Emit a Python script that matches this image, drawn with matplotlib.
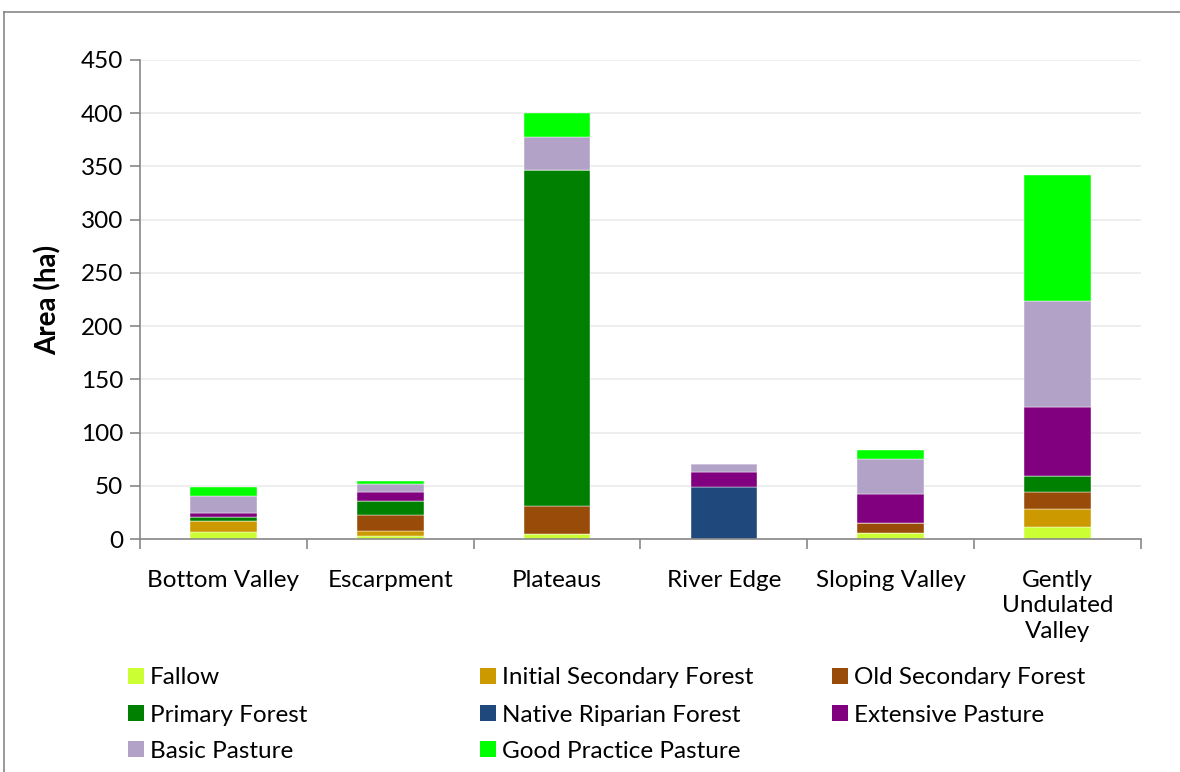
import matplotlib
matplotlib.use("Agg")
import matplotlib.pyplot as plt
import numpy as np
from matplotlib.patches import Rectangle
from matplotlib.lines import Line2D

plt.rcParams['font.family'] = ['Lato', 'DejaVu Sans']

# Landscape units
categories = ["Bottom Valley", "Escarpment", "Plateaus", "River Edge",
              "Sloping Valley", "Gently\nUndulated\nValley"]

# Area (ha) of each land use per landscape unit
fallow = [7, 2.5, 5, 0, 5.6, 11]
initial_secondary = [10, 4.7, 0, 0, 0, 17]
old_secondary = [0, 15.7, 26, 0, 9.1, 16]
primary_forest = [3.5, 12.8, 316, 0, 0, 15]
native_riparian = [0, 0, 0, 49, 0, 0]
extensive_pasture = [3.7, 8.8, 0, 14.4, 27.6, 65]
basic_pasture = [16.6, 7.1, 30.5, 6.6, 33.1, 99.5]
good_practice = [8, 2.5, 22.5, 0, 8.2, 118.5]

series = [
    ("Fallow", fallow, "#CCFF33"),
    ("Initial Secondary Forest", initial_secondary, "#CC9900"),
    ("Old Secondary Forest", old_secondary, "#994C09"),
    ("Primary Forest", primary_forest, "#008000"),
    ("Native Riparian Forest", native_riparian, "#1F497D"),
    ("Extensive Pasture", extensive_pasture, "#800080"),
    ("Basic Pasture", basic_pasture, "#B3A2C7"),
    ("Good Practice Pasture", good_practice, "#00FF00"),
]

W, H = 1180, 772
fig = plt.figure(figsize=(W / 100, H / 100), dpi=100)
ax = fig.add_axes([140 / W, 1 - 539 / H, 1001 / W, 479 / H])

x = np.arange(len(categories))
bottom = np.zeros(len(categories))
for name, vals, col in series:
    vals = np.array(vals, dtype=float)
    ax.bar(x, vals, 0.4, bottom=bottom, color=col, edgecolor="white", linewidth=0.3)
    bottom += vals

ax.set_xlim(-0.5, len(categories) - 0.5)
ax.set_ylim(0, 450)
ax.set_yticks(np.arange(0, 451, 50))
ax.set_xticks(x)
ax.set_xticklabels(categories, fontsize=17.5, linespacing=1.28)
ax.set_xticks(np.arange(-0.5, len(categories), 1), minor=True)
ax.tick_params(axis="x", which="major", length=0, pad=22)
ax.tick_params(axis="x", which="minor", length=7, color="#878787", width=1.2)
ax.tick_params(axis="y", labelsize=17.5, length=7, color="#878787", width=1.2, pad=5)
ax.grid(axis="y", color="#EBEBEB", linewidth=1.2)
ax.set_axisbelow(True)
for s in ["top", "right"]:
    ax.spines[s].set_visible(False)
for s in ["left", "bottom"]:
    ax.spines[s].set_color("#878787")
    ax.spines[s].set_linewidth(1.2)
ax.set_ylabel("Area (ha)", fontsize=20, fontweight="bold", labelpad=14)

# legend, row by row, three columns
col_x = [128, 480, 832]
row_y = [676, 713, 749]
for i, (name, vals, col) in enumerate(series):
    cx = col_x[i % 3]
    cy = row_y[i // 3]
    fig.add_artist(Rectangle((cx / W, 1 - (cy + 8) / H), 16 / W, 16 / H,
                             transform=fig.transFigure, facecolor=col, edgecolor="none"))
    fig.text((cx + 22) / W, 1 - (cy + 2) / H, name, fontsize=17.5, va="center", ha="left")

# outer border (top and left)
fig.add_artist(Line2D([4 / W, 1.0], [1 - 12 / H, 1 - 12 / H], color="#878787", lw=1.2))
fig.add_artist(Line2D([4 / W, 4 / W], [0.0, 1 - 12 / H], color="#878787", lw=1.2))

fig.savefig("out.png", dpi=100)
